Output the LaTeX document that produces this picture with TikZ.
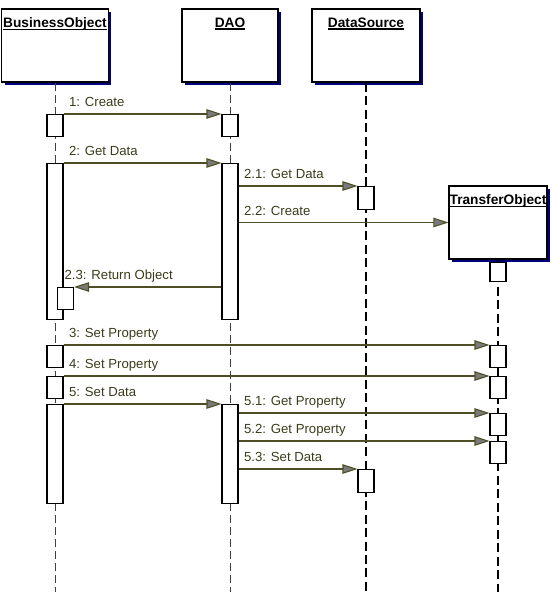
\documentclass[tikz,border=0pt]{standalone}
\usepackage{fontspec}
\setmainfont{Liberation Sans}
\usepackage{tikz}
\usetikzlibrary{arrows.meta,shadows}
\definecolor{ink}{HTML}{000000}
\definecolor{navy}{HTML}{000080}
\definecolor{msgc}{HTML}{4E4E26}
\definecolor{txtc}{HTML}{3C3C1C}
\definecolor{tipc}{HTML}{7A7A7A}
\newcommand{\objname}[1]{\setbox0\hbox{#1}\rlap{\rule[-1.4pt]{\wd0}{0.6pt}}\box0}
\begin{document}
\begin{tikzpicture}[x=0.02cm,y=-0.02cm,
  obj/.style={draw=ink,line width=0.7pt,fill=white,minimum height=1.46cm,
              drop shadow={fill=navy,opacity=1,shadow xshift=0.06cm,shadow yshift=-0.06cm}},
  ttl/.style={anchor=north,yshift=-3pt,inner sep=2pt,font=\fontsize{7.8}{9}\selectfont\bfseries},
  act/.style={draw=ink,line width=0.6pt,fill=white,minimum width=0.32cm,inner sep=0pt,anchor=north},
  life/.style={line width=0.5pt,black!75,dash pattern=on 0.16cm off 0.08cm},
  lifeb/.style={line width=1pt,ink,dash pattern=on 0.18cm off 0.09cm},
  msg/.style={-{Triangle[length=0.3cm,width=0.19cm,fill=tipc]},msgc,line width=0.6pt},
  lbl/.style={anchor=base west,inner sep=0pt,xshift=0.1cm,yshift=0.15cm,text=txtc,font=\fontsize{7.5}{9}\selectfont}]
  \useasboundingbox (0,0) rectangle (552,597);
  \node[obj,minimum width=2.14cm,label={[ttl]north:\objname{BusinessObject}}] (bo) at (55,45.5) {};
  \node[obj,minimum width=1.92cm,label={[ttl]north:\objname{DAO}}] (dao) at (230,45.5) {};
  \node[obj,minimum width=2.16cm,label={[ttl]north:\objname{DataSource}}] (ds) at (366,45.5) {};
  \node[obj,minimum width=1.96cm,label={[ttl]north:\objname{TransferObject}}] (to) at (498,222.5) {};
  \coordinate (bot) at (0,592);
  \draw[life] (bo.south) -- (bo.south |- bot);
  \draw[life] (dao.south) -- (dao.south |- bot);
  \draw[lifeb] (ds.south) -- (ds.south |- bot);
  \draw[lifeb] (to.south) -- (to.south |- bot);
  \node[act,minimum height=0.44cm] (bo1) at (55,114) {};
  \node[act,minimum height=0.44cm] (dao1) at (230,114) {};
  \node[act,minimum height=3.12cm] (bo2) at (55,163) {};
  \node[act,minimum height=3.12cm] (dao2) at (230,163) {};
  \node[act,minimum height=0.46cm] (ds1) at (366,186) {};
  \node[act,minimum height=0.38cm] (to1) at (498,262) {};
  \node[act,minimum height=0.44cm] (bo23) at (65.5,287) {};
  \node[act,minimum height=0.44cm] (bo3) at (55,345) {};
  \node[act,minimum height=0.44cm] (to3) at (498,345) {};
  \node[act,minimum height=0.44cm] (bo4) at (55,376) {};
  \node[act,minimum height=0.44cm] (to4) at (498,376) {};
  \node[act,minimum height=1.98cm] (bo5) at (55,404) {};
  \node[act,minimum height=1.98cm] (dao5) at (230,404) {};
  \node[act,minimum height=0.44cm] (to51) at (498,413) {};
  \node[act,minimum height=0.44cm] (to52) at (498,441) {};
  \node[act,minimum height=0.46cm] (ds2) at (366,469) {};
  \draw[msg] (bo1.north east) -- node[lbl,pos=0]{1: Create} (dao1.north west);
  \draw[msg] (bo2.north east) -- node[lbl,pos=0]{2: Get Data} (dao2.north west);
  \draw[msg] (dao2.east |- ds1.north) -- node[lbl,pos=0]{2.1: Get Data} (ds1.north west);
  \draw[msg] (dao2.east |- to.west) -- node[lbl,pos=0]{2.2: Create} (to.west);
  \draw[msg] (dao2.west |- bo23.north) -- node[lbl,pos=1,xshift=-0.3cm]{2.3: Return Object} (bo23.north east);
  \draw[msg] (bo3.north east) -- node[lbl,pos=0]{3: Set Property} (to3.north west);
  \draw[msg] (bo4.north east) -- node[lbl,pos=0]{4: Set Property} (to4.north west);
  \draw[msg] (bo5.north east) -- node[lbl,pos=0]{5: Set Data} (dao5.north west);
  \draw[msg] (dao5.east |- to51.north) -- node[lbl,pos=0]{5.1: Get Property} (to51.north west);
  \draw[msg] (dao5.east |- to52.north) -- node[lbl,pos=0]{5.2: Get Property} (to52.north west);
  \draw[msg] (dao5.east |- ds2.north) -- node[lbl,pos=0]{5.3: Set Data} (ds2.north west);
\end{tikzpicture}
\end{document}
